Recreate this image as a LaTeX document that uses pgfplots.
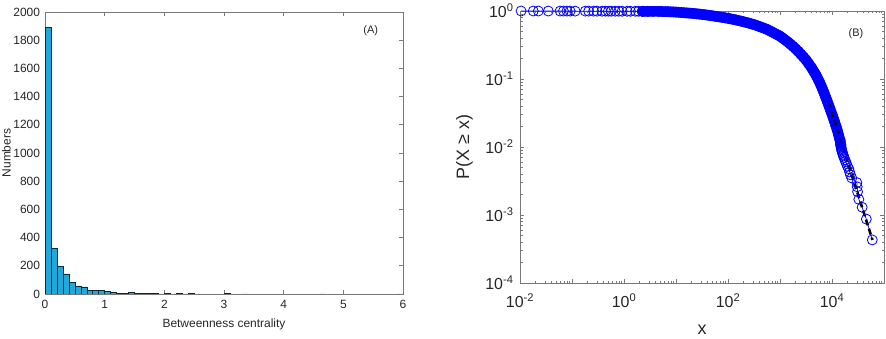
\documentclass[border=0pt]{standalone}
\usepackage{fontspec}
\setmainfont{Liberation Sans}
\usepackage{pgfplots}
\pgfplotsset{compat=1.18}
\usepackage{pgfplotstable}
\definecolor{barblue}{RGB}{33,168,219}
\definecolor{axgray}{RGB}{120,120,120}
\definecolor{txt}{RGB}{38,38,38}
\newcommand{\tp}[1]{10\textsuperscript{#1}}

\pgfplotstableread{
x y
0.0105 1.0000
0.018 0.9996
0.0225 0.9992
0.035 0.9987
0.059 0.9983
0.0685 0.9979
0.080 0.9975
0.092 0.9971
0.115 0.9966
0.18 0.9962
0.209 0.9958
0.26 0.9954
0.303 0.9950
0.378 0.9945
0.438 0.9941
0.50 0.9937
0.57 0.9933
0.68 0.9929
0.79 0.9924
0.92 0.9920
1.15 0.9916
1.33 0.9912
1.66 0.9908
1.90 0.9903
2.24 0.9899
}\flatdata

\pgfplotstableread{
x y
2.24 0.9899
2.40 0.9895
2.80 0.9891
3.00 0.9887
3.6 0.988
4.7 0.985
5.4 0.983
6.3 0.980
7.0 0.977
7.9 0.972
8.9 0.968
10.0 0.964
11.2 0.957
12.6 0.950
14.13 0.944
15.85 0.937
17.78 0.931
19.95 0.925
22.39 0.916
25.12 0.908
28.18 0.900
31.62 0.891
35.48 0.881
39.81 0.871
44.67 0.861
50.12 0.849
56.23 0.838
63.10 0.826
70.79 0.815
79.43 0.803
89.13 0.792
100.0 0.780
112.2 0.767
125.9 0.753
141.3 0.740
158.5 0.724
177.8 0.710
199.5 0.695
223.9 0.679
251.2 0.664
281.8 0.647
316.2 0.631
354.8 0.612
398.1 0.593
446.7 0.574
501.2 0.556
562.3 0.537
631.0 0.513
707.9 0.490
794.3 0.468
891.3 0.447
1000 0.427
1122 0.400
1259 0.375
1413 0.350
1585 0.326
1778 0.302
1995 0.278
2239 0.255
2512 0.232
2818 0.211
3162 0.191
3548 0.169
3981 0.149
4217 0.139
4467 0.129
4732 0.120
5012 0.111
5309 0.102
5623 0.0933
5957 0.0847
6310 0.0767
6683 0.0689
7079 0.0617
7499 0.0550
7943 0.0490
8414 0.0435
8913 0.0385
9441 0.0341
10000 0.0302
10593 0.0266
11220 0.0234
11885 0.0204
12589 0.0178
13335 0.0151
14125 0.0129
14300 0.0126
14500 0.0117
14700 0.0109
}\banddata

\pgfplotstableread{
x y
14700 0.0109
14800 0.0104
14900 0.0100
15100 0.0096
15300 0.0091
15500 0.0087
15800 0.0083
16200 0.0078
16600 0.0074
17000 0.0070
17700 0.0065
18200 0.0061
19000 0.0057
19800 0.0052
21000 0.0048
21800 0.0043
22600 0.0039
24000 0.0035
30000 0.0030
30500 0.0026
31000 0.0022
32800 0.0017
38000 0.0013
45700 0.00087
59500 0.00043
}\taildata

\begin{document}
\begin{tikzpicture}
\useasboundingbox (0,0) rectangle (886bp,339bp);
% ---------------- (A) histogram ----------------
\begin{axis}[
  at={(45bp,45bp)}, anchor=south west,
  scale only axis, width=358bp, height=282bp,
  xmin=0, xmax=60000, ymin=0, ymax=2000,
  xtick={0,10000,20000,30000,40000,50000,60000},
  xticklabels={0,1,2,3,4,5,6},
  ytick={0,200,...,2000},
  scaled ticks=false,
  /pgf/number format/1000 sep={},
  /pgf/number format/assume math mode=true,
  tick align=inside,
  axis line style={axgray, line width=0.6bp},
  major tick style={axgray, line width=0.6bp},
  major tick length=4bp,
  tick label style={font=\fontsize{12}{14}\selectfont, text=txt},
  xticklabel style={yshift=-2.5bp},
  yticklabel style={xshift=-1.5bp},
  xlabel={Betweenness centrality},
  ylabel={Numbers},
  xlabel style={at={(rel axis cs:0.5,0)}, anchor=north, inner sep=0pt, yshift=-24.5bp, font=\fontsize{12}{14}\selectfont, text=txt},
  ylabel style={at={(rel axis cs:0,0.5)}, anchor=south, inner sep=0pt, yshift=34bp, font=\fontsize{12}{14}\selectfont, text=txt},
]
\addplot[ybar interval, fill=barblue, draw=black!75!barblue, line width=0.5bp] coordinates {
(0,1893) (1000,324) (2000,194) (3000,142) (4000,83) (5000,57) (6000,50) (7000,27)
(8000,26) (9000,28) (10000,17) (11000,10) (12000,7) (13000,7) (14000,14) (15000,4)
(16000,2) (17000,3) (18000,2) (19000,1) (20000,2) (21000,1) (22000,2) (23000,1)
(24000,2) (25000,1) (26000,0) (27000,0) (28000,0) (29000,0) (30000,2) (31000,0)
(32000,0) (33000,1) (34000,0) (35000,0) (36000,0) (37000,0) (38000,0) (39000,0)
(40000,0) (41000,0) (42000,0) (43000,0) (44000,0) (45000,0) (46000,1) (47000,0)
(48000,0) (49000,0) (50000,0) (51000,0) (52000,0) (53000,0) (54000,0) (55000,0)
(56000,0) (57000,0) (58000,0) (59000,1) (60000,0)};
\node[font=\fontsize{11}{13}\selectfont, text=txt] at (rel axis cs:0.91,0.933) {(A)};
\node[font=\fontsize{12}{14}\selectfont, text=txt, anchor=north east, inner sep=0pt] at ([yshift=-24bp,xshift=-1bp]rel axis cs:1,0) {×10\textsuperscript{4}};
\end{axis}
% ---------------- (B) CCDF ----------------
\begin{axis}[
  at={(520bp,56bp)}, anchor=south west,
  scale only axis, width=364bp, height=272bp,
  xmode=log, ymode=log,
  xmin=1e-2, xmax=1e5, ymin=1e-4, ymax=1,
  xtick={1e-2,1e-1,1,1e1,1e2,1e3,1e4,1e5},
  xticklabels={\tp{-2},,\tp{0},,\tp{2},,\tp{4},},
  ytick={1e-4,1e-3,1e-2,1e-1,1},
  yticklabels={\tp{-4},\tp{-3},\tp{-2},\tp{-1},\tp{0}},
  clip=false,
  tick align=inside,
  axis line style={axgray, line width=0.6bp},
  major tick style={axgray, line width=0.6bp},
  minor tick style={axgray, line width=0.5bp},
  major tick length=4bp, minor tick length=2.5bp,
  tick label style={font=\fontsize{16}{18}\selectfont, text=txt},
  xticklabel style={yshift=-7bp},
  yticklabel style={xshift=-3bp},
  xlabel={x},
  ylabel={P(X ≥ x)},
  xlabel style={at={(rel axis cs:0.5,0)}, anchor=north, inner sep=0pt, yshift=-42bp, font=\fontsize{18}{20}\selectfont, text=txt},
  ylabel style={at={(rel axis cs:0,0.5)}, anchor=south, inner sep=0pt, yshift=47bp, font=\fontsize{18}{20}\selectfont, text=txt},
]
\addplot[blue, line width=10.5bp, line cap=round, line join=round, forget plot] table {\banddata};
\addplot[blue, line width=0.7bp, mark=o, mark size=5bp, mark options={line width=0.8bp}] table {\flatdata};
\addplot[blue, line width=0.7bp, mark=o, mark size=5bp, mark options={line width=0.8bp}] table {\banddata};
\addplot[blue, line width=0.7bp, mark=o, mark size=5bp, mark options={line width=0.8bp}] table {\taildata};
\addplot[black, line width=2.6bp, dash pattern=on 6bp off 3.5bp] coordinates {(8600,0.046) (60000,0.00043)};
\node[font=\fontsize{11}{13}\selectfont, text=txt] at (rel axis cs:0.923,0.915) {(B)};
\end{axis}
\end{tikzpicture}
\end{document}
